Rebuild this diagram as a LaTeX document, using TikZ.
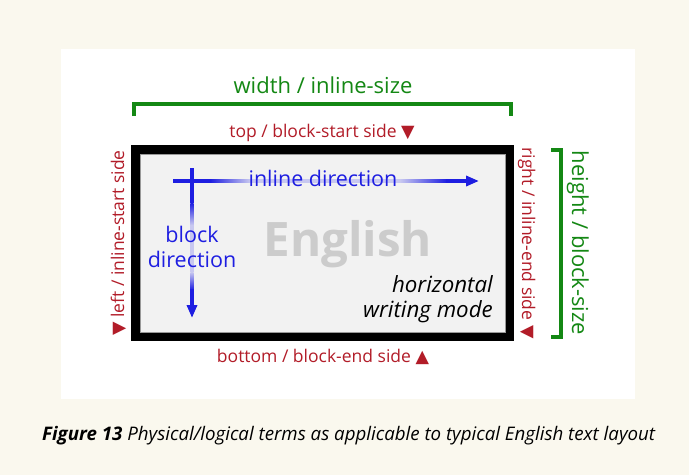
\documentclass[tikz,border=0pt]{standalone}
\usepackage{fontspec}
\setmainfont{Open Sans}
\newfontfamily\symfont{DejaVu Sans}
\usetikzlibrary{arrows.meta}
\definecolor{cream}{RGB}{250,248,238}
\definecolor{grn}{RGB}{20,136,20}
\definecolor{redd}{RGB}{178,28,40}
\definecolor{blu}{RGB}{30,30,225}
\definecolor{lblu}{RGB}{200,200,240}
\definecolor{boxbg}{RGB}{242,242,242}
\definecolor{engl}{RGB}{204,204,204}
\newcommand{\tridown}{{\symfont\fontsize{17.5}{19}\selectfont ▼}}
\newcommand{\triup}{{\symfont\fontsize{17.5}{19}\selectfont ▲}}
\tikzset{
  bracket/.style={draw=grn, line width=3.5pt},
  sidelabel/.style={text=redd, font=\fontsize{17.5}{20}\selectfont, inner sep=0pt},
  sizelabel/.style={text=grn, font=\fontsize{22}{26}\selectfont, inner sep=0pt},
  dirlabel/.style={text=blu, font=\fontsize{21.5}{26}\selectfont, inner sep=0pt},
  modelabel/.style={font=\itshape\fontsize{22.3}{26}\selectfont, anchor=base east, inner sep=0pt},
  dirline/.style={line width=3.3pt},
}
\begin{document}
\begin{tikzpicture}[x=1pt,y=-1pt]
\useasboundingbox (0,0) rectangle (689,475);
\fill[cream] (0,0) rectangle (689,475);
\fill[white] (61,49) rectangle (635,399);

% box
\draw[line width=9pt, fill=boxbg] (135.5,149.5) rectangle (509.5,336.5);
\draw[draw=black!40, line width=0.8pt] (140,154) rectangle (505.5,332);

% top bracket
\coordinate (tbl) at (134,116);
\coordinate (tbr) at (511,116);
\draw[bracket] (tbl) -- (134,104) -- (511,104) -- (tbr);
\node[sizelabel, anchor=base] (wlab) at (323,93) {width / inline-size};

% right bracket
\coordinate (rbt) at (551,150);
\coordinate (rbb) at (551,337);
\draw[bracket] (rbt) -- (561,150) -- (561,337) -- (rbb);
\node[sizelabel, rotate=-90, anchor=base] (hlab) at (572,243) {height / block-size};

% side labels
\node[sidelabel, anchor=base] (top) at (322,137) {top / block-start side \tridown};
\node[sidelabel, anchor=base] (bot) at (323,362) {bottom / block-end side \triup};
\node[sidelabel, rotate=90, anchor=base] (lft) at (124,243) {\tridown\ left / inline-start side};
\node[sidelabel, rotate=-90, anchor=base] (rgt) at (522,243) {right / inline-end side \tridown};

% English
\node[text=engl, font=\bfseries\fontsize{47.5}{57}\selectfont, anchor=base, inner sep=0pt] (eng) at (348,256) {English};

% horizontal writing mode
\node[modelabel] (hm1) at (493,292) {horizontal};
\node[modelabel] (hm2) at (493,317) {writing mode};

% inline direction line
\fill[blu] (173,179.35) rectangle (210,182.65);
\shade[left color=blu, right color=lblu] (210,179.35) rectangle (250,182.65);
\fill[lblu] (250,179.35) rectangle (400,182.65);
\shade[left color=lblu, right color=blu] (400,179.35) rectangle (447,182.65);
\coordinate (hs) at (446,181);
\coordinate (he) at (479,181);
\draw[blu, dirline, -{Triangle[length=13pt,width=10pt]}] (hs) -- (he);

% block direction line
\fill[blu] (190.35,168) rectangle (193.65,203);
\shade[top color=blu, bottom color=lblu] (190.35,203) rectangle (193.65,225);
\fill[lblu] (190.35,225) rectangle (193.65,272);
\shade[top color=lblu, bottom color=blu] (190.35,272) rectangle (193.65,290);
\coordinate (vs) at (192,289);
\coordinate (ve) at (192,318);
\draw[blu, dirline, -{Triangle[length=13pt,width=10pt]}] (vs) -- (ve);

\node[dirlabel, anchor=base] (idir) at (323,186) {inline direction};
\node[dirlabel, anchor=base] (bd1) at (192,242) {block};
\node[dirlabel, anchor=base] (bd2) at (192,267) {direction};

% caption
\node[anchor=base west, inner sep=0pt, font=\itshape\fontsize{18.7}{22}\selectfont] (cap) at (42,440) {{\bfseries Figure 13} Physical/logical terms as applicable to typical English text layout};
\end{tikzpicture}
\end{document}
